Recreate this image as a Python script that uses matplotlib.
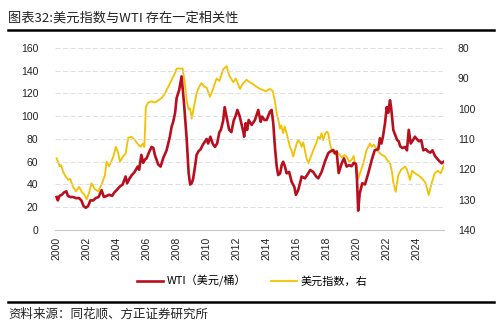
import matplotlib
matplotlib.use("Agg")
import matplotlib.pyplot as plt
from matplotlib.lines import Line2D

plt.rcParams['font.family'] = ['Noto Sans CJK SC', 'DejaVu Sans']

# ── data ──────────────────────────────────────────────────────────────────────
# WTI (USD / barrel), left axis
wti_t = [2000.0, 2000.08, 2000.2, 2000.35, 2000.5, 2000.65, 2000.75, 2000.9,
         2001.1, 2001.3, 2001.5, 2001.65, 2001.8, 2001.95, 2002.1, 2002.25,
         2002.45, 2002.6, 2002.8, 2003.0, 2003.15, 2003.35, 2003.5, 2003.7,
         2003.85, 2004.0, 2004.2, 2004.4, 2004.6, 2004.7, 2004.85, 2005.0,
         2005.2, 2005.4, 2005.5, 2005.65, 2005.77, 2005.9, 2006.0, 2006.15,
         2006.33, 2006.45, 2006.55, 2006.77, 2006.93, 2007.1, 2007.33, 2007.55,
         2007.67, 2007.77, 2007.9, 2008.0, 2008.17, 2008.33, 2008.5, 2008.67,
         2008.8, 2008.9, 2009.0, 2009.1, 2009.25, 2009.33, 2009.45, 2009.6,
         2009.75, 2009.9, 2010.0, 2010.1, 2010.25, 2010.4, 2010.55, 2010.7,
         2010.85, 2010.95, 2011.1, 2011.2, 2011.35, 2011.5, 2011.65, 2011.8,
         2011.95, 2012.05, 2012.2, 2012.45, 2012.5, 2012.6, 2012.7, 2012.8,
         2013.0, 2013.22, 2013.44, 2013.6, 2013.7, 2013.85, 2014.0, 2014.22,
         2014.33, 2014.44, 2014.55, 2014.67, 2014.77, 2014.9, 2015.0, 2015.1,
         2015.22, 2015.33, 2015.5, 2015.66, 2015.84, 2015.95, 2016.1, 2016.22,
         2016.33, 2016.55, 2016.77, 2016.9, 2017.1, 2017.3, 2017.44, 2017.66,
         2017.88, 2018.1, 2018.22, 2018.44, 2018.55, 2018.66, 2018.8, 2019.0,
         2019.15, 2019.33, 2019.5, 2019.66, 2019.8, 2019.95, 2020.02, 2020.1,
         2020.2, 2020.37, 2020.55, 2020.77, 2021.0, 2021.2, 2021.44, 2021.55,
         2021.65, 2021.75, 2021.89, 2022.0, 2022.1, 2022.22, 2022.3, 2022.44,
         2022.55, 2022.7, 2022.8, 2022.9, 2023.05, 2023.22, 2023.35, 2023.47,
         2023.6, 2023.75, 2023.88, 2024.0, 2024.15, 2024.3, 2024.44, 2024.6,
         2024.75, 2024.9, 2025.05, 2025.22, 2025.44, 2025.66, 2025.8]
wti = [29, 26, 30, 31, 33, 34, 30, 29,
       29, 28, 28, 26, 21, 19.5, 21, 26,
       26, 28, 29, 35, 29, 30, 31, 30,
       33, 35, 38, 40, 47, 41, 45, 48,
       51, 55.7, 53, 66, 59, 62, 63, 68,
       73, 72, 66, 57.6, 55.7, 63, 70, 82,
       91, 95, 103, 116, 123, 135, 110, 80,
       50, 40, 41, 45, 58, 66, 69, 71,
       75, 78, 80, 76, 82, 76, 73, 76,
       86, 88, 96, 108, 98, 88, 86, 96,
       101, 105.5, 100, 86, 82, 93.8, 88, 96.7,
       92.3, 96.7, 105.5, 95, 99.7, 96.7, 96.7, 104,
       105.5, 93.8, 73, 55.7, 48.3, 49.8, 57, 60,
       55.7, 49.8, 51, 42.5, 38, 30.8, 35, 41,
       47, 45.4, 49.8, 52.7, 51, 47, 45.4, 51,
       60, 67.4, 68.8, 70.3, 67.4, 69, 50, 58.6,
       63, 55.7, 57, 56, 59, 58, 44, 17,
       32, 41, 40, 49.8, 61.5, 70, 71, 80.6,
       76, 82, 94, 108, 103, 114, 107, 88,
       84, 79, 78, 73.5, 72, 73, 70, 88,
       76, 79, 82, 80, 78, 79, 70, 71,
       69, 68, 70, 65, 61.5, 58.6, 60]

# dollar index, right axis (inverted)
dxy_t = [2000.0, 2000.1, 2000.2, 2000.3, 2000.44, 2000.6, 2000.78, 2000.9,
         2001.1, 2001.3, 2001.5, 2001.7, 2001.85, 2002.0, 2002.15, 2002.33,
         2002.55, 2002.78, 2003.0, 2003.22, 2003.33, 2003.5, 2003.77, 2003.95,
         2004.1, 2004.22, 2004.45, 2004.6, 2004.77, 2005.0, 2005.22, 2005.45,
         2005.6, 2005.75, 2005.85, 2005.95, 2006.1, 2006.33, 2006.55, 2006.77,
         2007.0, 2007.22, 2007.44, 2007.67, 2007.89, 2008.0, 2008.2, 2008.4,
         2008.55, 2008.67, 2008.8, 2008.9, 2009.0, 2009.15, 2009.33, 2009.5,
         2009.66, 2009.85, 2010.0, 2010.22, 2010.4, 2010.66, 2010.85, 2011.1,
         2011.33, 2011.5, 2011.77, 2011.95, 2012.22, 2012.44, 2012.66, 2012.85,
         2013.0, 2013.33, 2013.55, 2013.77, 2013.95, 2014.2, 2014.4, 2014.55,
         2014.67, 2014.77, 2014.89, 2014.97, 2015.1, 2015.2, 2015.33, 2015.44,
         2015.55, 2015.66, 2015.77, 2015.88, 2016.0, 2016.1, 2016.22, 2016.33,
         2016.44, 2016.55, 2016.66, 2016.78, 2016.9, 2017.1, 2017.3, 2017.44,
         2017.55, 2017.66, 2017.77, 2017.88, 2018.0, 2018.1, 2018.22, 2018.33,
         2018.5, 2018.66, 2018.89, 2019.0, 2019.2, 2019.33, 2019.5, 2019.66,
         2019.8, 2019.89, 2020.0, 2020.1, 2020.22, 2020.44, 2020.66, 2020.89,
         2021.0, 2021.15, 2021.33, 2021.5, 2021.7, 2021.89, 2022.05, 2022.22,
         2022.33, 2022.44, 2022.6, 2022.77, 2022.95, 2023.22, 2023.35, 2023.55,
         2023.7, 2023.89, 2024.1, 2024.22, 2024.44, 2024.6, 2024.8, 2024.97,
         2025.2, 2025.4, 2025.6, 2025.83]
dxy = [116.4, 117.5, 119.0, 118.6, 120.9, 122.4, 123.5, 123.1,
       125.8, 127.3, 125.8, 127.6, 128.4, 129.9, 128.0, 124.6,
       126.5, 127.3, 125.0, 122.0, 117.5, 119.0, 116.0, 112.6,
       114.5, 117.5, 115.6, 114.9, 109.6, 109.3, 110.4, 111.9,
       112.6, 111.5, 112.6, 99.5, 98.0, 97.6, 98.0, 97.3,
       96.5, 95.0, 92.8, 90.5, 88.3, 86.8, 86.8, 86.8,
       91.6, 97.3, 100.3, 99.9, 103.3, 99.5, 95.0, 92.8,
       91.6, 92.8, 93.1, 96.1, 93.9, 90.1, 90.9, 87.1,
       86.0, 89.0, 91.3, 90.1, 93.5, 91.6, 90.5, 91.3,
       91.6, 92.8, 93.5, 93.9, 94.3, 93.5, 94.1, 97.6,
       101.5, 103.6, 106.6, 105.5, 108.1, 105.9, 108.1, 110.4,
       112.6, 113.8, 115.8, 113.8, 111.5, 110.4, 111.1, 112.6,
       111.1, 113.8, 116.4, 118.0, 116.4, 113.8, 111.5, 109.3,
       110.0, 108.1, 110.4, 108.5, 107.6, 108.1, 111.5, 113.8,
       114.9, 114.1, 115.3, 116.0, 115.3, 115.8, 117.5, 116.9,
       115.6, 118.0, 119.1, 123.1, 121.3, 118.0, 113.6, 111.5,
       112.6, 111.9, 113.4, 114.5, 115.3, 115.8, 117.1, 118.0,
       120.2, 124.3, 127.4, 121.9, 120.2, 119.1, 120.1, 123.5,
       120.5, 121.3, 122.0, 122.4, 123.5, 124.6, 128.5, 125.0,
       121.3, 120.5, 121.3, 118.6]

left_ticks = [0, 20, 40, 60, 80, 100, 120, 140, 160]
right_ticks = [80, 90, 100, 110, 120, 130, 140]
year_ticks = list(range(2000, 2025, 2))

RED = '#B80E1E'
GOLD = '#F2C100'

# ── figure ────────────────────────────────────────────────────────────────────
fig = plt.figure(figsize=(5.04, 3.26), dpi=100)
ax = fig.add_axes([0.109, 0.2945, 0.772, 0.5585])
ax2 = ax.twinx()

ax2.plot(dxy_t, dxy, color=GOLD, linewidth=1.3, zorder=2)
ax.plot(wti_t, wti, color=RED, linewidth=1.9, zorder=3)
ax.set_zorder(ax2.get_zorder() + 1)
ax.patch.set_visible(False)

ax.set_xlim(1999.89, 2025.82)
ax.set_ylim(0, 160)
ax2.set_ylim(140, 80)

ax.set_yticks(left_ticks)
ax2.set_yticks(right_ticks)
ax.set_xticks(year_ticks)
ax.set_xticklabels([str(y) for y in year_ticks], rotation=90)

tick_font = dict(family='Liberation Sans', size=7.5, color='#222222')
for lab in ax.get_xticklabels() + ax.get_yticklabels() + ax2.get_yticklabels():
    lab.set_fontfamily('Liberation Sans')
    lab.set_fontsize(7.5)
    lab.set_color('#222222')

ax.tick_params(axis='both', length=0)
ax.tick_params(axis='y', pad=12)
ax.tick_params(axis='x', pad=5)
ax2.tick_params(axis='y', length=0, pad=10)

for sp in ['top', 'right', 'left']:
    ax.spines[sp].set_visible(False)
for sp in ['top', 'right', 'left', 'bottom']:
    ax2.spines[sp].set_visible(False)
ax.spines['bottom'].set_color('#C8C8C8')
ax.spines['bottom'].set_linewidth(0.8)

ax.grid(axis='y', color='#D9D9D9', linestyle=(0, (6, 3)), linewidth=0.6)
ax.set_axisbelow(True)

# legend
handles = [Line2D([], [], color=RED, linewidth=1.9),
           Line2D([], [], color=GOLD, linewidth=1.3)]
fig.legend(handles, ['WTI（美元/桶）', '美元指数，右'], loc='center',
           bbox_to_anchor=(0.5, 1 - 281 / 326), ncol=2, frameon=False,
           fontsize=8, handlelength=2.4, handletextpad=0.3, columnspacing=2.2)

# title, rules and source note
fig.text(8 / 504, 1 - 18 / 326, '图表32:美元指数与WTI 存在一定相关性',
         fontsize=9.5, va='center', ha='left', color='#222222')
fig.add_artist(Line2D([8 / 504, 494 / 504], [1 - 30 / 326] * 2,
                      color='black', linewidth=1.8))
fig.add_artist(Line2D([8 / 504, 494 / 504], [1 - 302 / 326] * 2,
                      color='black', linewidth=1.8))
fig.text(8 / 504, 1 - 314 / 326, '资料来源：同花顺、方正证券研究所',
         fontsize=9, va='center', ha='left', color='#222222')

fig.savefig('out.png', dpi=100, facecolor='white')
